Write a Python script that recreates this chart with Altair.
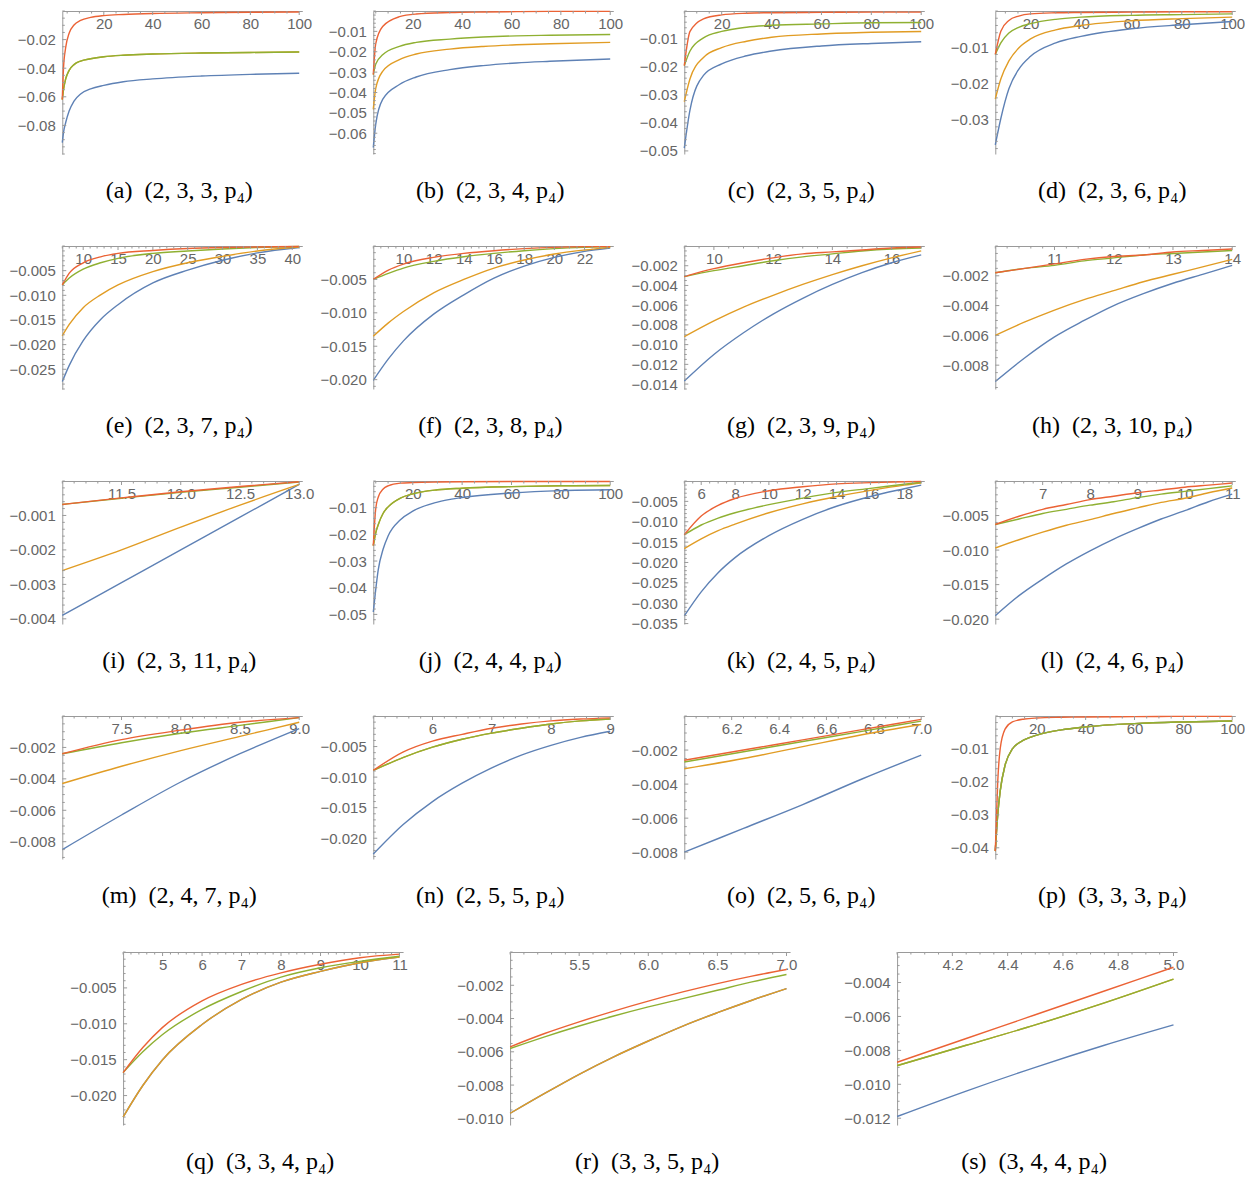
import math
import altair as alt
import pandas as pd

# ---------------- data ----------------
# (a) (2,3,3,p4)
a_x = [3, 3.5, 4.4, 5.8, 7.8, 10.5, 14.6, 20, 28, 40, 60, 80, 100]
a_blue = [-0.092, -0.085, -0.078, -0.070, -0.063, -0.058, -0.0545, -0.052, -0.0495, -0.0475, -0.0455, -0.0443, -0.0435]
a_orange = [-0.0619, -0.055, -0.0474, -0.0415, -0.0375, -0.035, -0.0334, -0.0320, -0.0309, -0.0301, -0.0294, -0.029, -0.0287]
a_green = [-0.0619, -0.055, -0.0474, -0.0415, -0.0375, -0.035, -0.0334, -0.0320, -0.0309, -0.0301, -0.0294, -0.029, -0.0287]
a_red = [-0.0619, -0.040, -0.0255, -0.0155, -0.0098, -0.0066, -0.0045, -0.0032, -0.0024, -0.0017, -0.0012, -0.0009, -0.0007]
a_xticks = [20, 40, 60, 80, 100]
a_yticks = [-0.02, -0.04, -0.06, -0.08]

# (b) (2,3,4,p4)
b_x = [4, 5, 7.8, 14.6, 21.4, 35, 48.5, 62, 75.6, 100]
b_blue = [-0.0670, -0.0555, -0.0434, -0.0361, -0.0324, -0.0288, -0.0268, -0.0255, -0.0247, -0.0236]
b_orange = [-0.0483, -0.0380, -0.0296, -0.0239, -0.0211, -0.0187, -0.0174, -0.0166, -0.0161, -0.0154]
b_green = [-0.0312, -0.0260, -0.0215, -0.0174, -0.0154, -0.0138, -0.0128, -0.0122, -0.0119, -0.0115]
b_red = [-0.0312, -0.0160, -0.0076, -0.0028, -0.0015, -0.0008, -0.0005, -0.0003, -0.0002, -0.0002]
b_xticks = [20, 40, 60, 80, 100]
b_yticks = [-0.01, -0.02, -0.03, -0.04, -0.05, -0.06]

# (c) (2,3,5,p4)
c_x = [5, 7.3, 12.7, 20, 30, 40, 60, 80, 100]
c_blue = [-0.049, -0.0353, -0.0230, -0.0189, -0.0160, -0.0143, -0.0125, -0.0116, -0.0110]
c_orange = [-0.0324, -0.0242, -0.0166, -0.0131, -0.0108, -0.0094, -0.0082, -0.0076, -0.0073]
c_green = [-0.0195, -0.0143, -0.0096, -0.0073, -0.0058, -0.0051, -0.0046, -0.0042, -0.0041]
c_red = [-0.0195, -0.0073, -0.0028, -0.0014, -0.0008, -0.0006, -0.0005, -0.0004, -0.0004]
c_xticks = [20, 40, 60, 80, 100]
c_yticks = [-0.01, -0.02, -0.03, -0.04, -0.05]

# (d) (2,3,6,p4)
d_x = [6, 8.2, 11.4, 15.3, 20, 30, 40, 60, 80, 100]
d_blue = [-0.037, -0.0297, -0.0215, -0.0161, -0.0125, -0.0088, -0.0070, -0.0049, -0.0038, -0.0029]
d_orange = [-0.0243, -0.0188, -0.0138, -0.0102, -0.0077, -0.0052, -0.0040, -0.0027, -0.0021, -0.0017]
d_green = [-0.012, -0.0088, -0.0061, -0.0045, -0.0035, -0.0023, -0.0017, -0.0012, -0.0010, -0.0008]
d_red = [-0.012, -0.0056, -0.0026, -0.0014, -0.0008, -0.0005, -0.0004, -0.0003, -0.0002, -0.0002]
d_xticks = [20, 40, 60, 80, 100]
d_yticks = [-0.01, -0.02, -0.03]

# (e) (2,3,7,p4)
e_x = [7, 8, 10, 12.5, 15, 20, 25, 30, 35, 41]
e_blue = [-0.0275, -0.0242, -0.0192, -0.0149, -0.0119, -0.0075, -0.0049, -0.0029, -0.0014, -0.0003]
e_orange = [-0.0182, -0.0159, -0.0125, -0.0099, -0.0079, -0.0052, -0.0034, -0.0021, -0.0010, -0.0002]
e_green = [-0.0079, -0.0065, -0.0047, -0.0034, -0.0025, -0.0015, -0.0010, -0.0006, -0.0003, -0.0001]
e_red = [-0.0079, -0.0055, -0.0034, -0.0022, -0.0015, -0.0009, -0.0005, -0.0003, -0.0002, -0.0001]
e_xticks = [10, 15, 20, 25, 30, 35, 40]
e_yticks = [-0.005, -0.010, -0.015, -0.020, -0.025]

# (f) (2,3,8,p4)
f_x = [8, 9, 10, 12, 14, 16, 18, 20, 22, 23.7]
f_blue = [-0.0201, -0.0169, -0.0142, -0.0102, -0.0073, -0.0048, -0.0030, -0.0017, -0.0008, -0.0003]
f_orange = [-0.0135, -0.0115, -0.0098, -0.0070, -0.0050, -0.0033, -0.0021, -0.0012, -0.0006, -0.0002]
f_green = [-0.0050, -0.0041, -0.0033, -0.0023, -0.0016, -0.0011, -0.0007, -0.0004, -0.0002, -0.0001]
f_red = [-0.0050, -0.0036, -0.0027, -0.0017, -0.0011, -0.0007, -0.0004, -0.0002, -0.0001, -0.0001]
f_xticks = [10, 12, 14, 16, 18, 20, 22]
f_yticks = [-0.005, -0.010, -0.015, -0.020]

# (g) (2,3,9,p4)
g_x = [9, 10, 11, 12, 13, 14, 15, 16, 17]
g_blue = [-0.0137, -0.0110, -0.0088, -0.0069, -0.0053, -0.0039, -0.0027, -0.0017, -0.0009]
g_orange = [-0.0092, -0.0076, -0.0062, -0.0050, -0.0039, -0.0029, -0.0020, -0.0012, -0.0005]
g_green = [-0.0031, -0.0025, -0.0020, -0.0015, -0.0011, -0.0008, -0.0005, -0.0003, -0.0002]
g_red = [-0.0031, -0.0023, -0.0017, -0.0012, -0.0008, -0.0006, -0.0004, -0.0002, -0.0001]
g_xticks = [10, 12, 14, 16]
g_yticks = [-0.002, -0.004, -0.006, -0.008, -0.010, -0.012, -0.014]

# (h) (2,3,10,p4)
h_x = [10, 10.5, 11, 11.5, 12, 12.5, 13, 13.5, 14]
h_blue = [-0.0091, -0.0075, -0.0061, -0.0050, -0.0040, -0.0032, -0.0025, -0.0019, -0.0013]
h_orange = [-0.0060, -0.0051, -0.0043, -0.0036, -0.0030, -0.0024, -0.0019, -0.0014, -0.0009]
h_green = [-0.0018, -0.0015, -0.0013, -0.0010, -0.0008, -0.0006, -0.0005, -0.0004, -0.0003]
h_red = [-0.0018, -0.0015, -0.0012, -0.0009, -0.0007, -0.0006, -0.0004, -0.0003, -0.0002]
h_xticks = [11, 12, 13, 14]
h_yticks = [-0.002, -0.004, -0.006, -0.008]

# (i) (2,3,11,p4)
i_x = [11, 11.5, 12, 12.5, 13]
i_blue = [-0.0039, -0.00295, -0.0020, -0.00105, -0.0001]
i_orange = [-0.0026, -0.0020, -0.00134, -0.0007, -0.0001]
i_green = [-0.00068, -0.0005, -0.00033, -0.00018, -0.00003]
i_red = [-0.00068, -0.00049, -0.00031, -0.00016, -0.00002]
i_xticks = [11.5, 12.0, 12.5, 13.0]
i_yticks = [-0.001, -0.002, -0.003, -0.004]

# (j) (2,4,4,p4)
j_x = [4, 5, 6, 8, 10, 15, 20, 30, 40, 60, 80, 100]
j_blue = [-0.0491, -0.0406, -0.0333, -0.0255, -0.0206, -0.0145, -0.0113, -0.0079, -0.0062, -0.0045, -0.0036, -0.0033]
j_orange = [-0.0242, -0.0194, -0.0164, -0.0121, -0.0097, -0.0064, -0.0048, -0.0033, -0.0027, -0.0021, -0.0018, -0.0017]
j_green = [-0.0242, -0.0194, -0.0164, -0.0121, -0.0097, -0.0064, -0.0048, -0.0033, -0.0027, -0.0021, -0.0018, -0.0017]
j_red = [-0.0242, -0.0103, -0.0061, -0.0030, -0.0018, -0.0008, -0.0006, -0.0004, -0.0003, -0.0002, -0.0002, -0.0002]
j_xticks = [20, 40, 60, 80, 100]
j_yticks = [-0.01, -0.02, -0.03, -0.04, -0.05]

# (k) (2,4,5,p4)
k_x = [5, 6, 7, 8, 10, 12, 14, 16, 18, 19]
k_blue = [-0.0331, -0.0272, -0.0225, -0.0188, -0.0134, -0.0094, -0.0062, -0.0038, -0.0019, -0.0010]
k_orange = [-0.0166, -0.0142, -0.0122, -0.0106, -0.0078, -0.0056, -0.0038, -0.0023, -0.0010, -0.0005]
k_green = [-0.0132, -0.0108, -0.0091, -0.0078, -0.0058, -0.0042, -0.0028, -0.0018, -0.0008, -0.0003]
k_red = [-0.0132, -0.0086, -0.0060, -0.0043, -0.0024, -0.0014, -0.0007, -0.0004, -0.0002, -0.0001]
k_xticks = [6, 8, 10, 12, 14, 16, 18]
k_yticks = [-0.005, -0.010, -0.015, -0.020, -0.025, -0.030, -0.035]

# (l) (2,4,6,p4)
l_x = [6, 6.5, 7, 7.5, 8, 8.5, 9, 9.5, 10, 10.5, 11]
l_blue = [-0.0195, -0.0166, -0.0142, -0.0120, -0.0101, -0.0084, -0.0069, -0.0055, -0.0043, -0.0030, -0.0019]
l_orange = [-0.0097, -0.0085, -0.0074, -0.0064, -0.0056, -0.0047, -0.0039, -0.0031, -0.0025, -0.0017, -0.0010]
l_green = [-0.0063, -0.0055, -0.0047, -0.0041, -0.0035, -0.0030, -0.0024, -0.0019, -0.0015, -0.0011, -0.0007]
l_red = [-0.0063, -0.0051, -0.0041, -0.0034, -0.0027, -0.0022, -0.0017, -0.0013, -0.0009, -0.0006, -0.0003]
l_xticks = [7, 8, 9, 10, 11]
l_yticks = [-0.005, -0.010, -0.015, -0.020]

# (m) (2,4,7,p4)
m_x = [7, 7.5, 8, 8.5, 9]
m_blue = [-0.0085, -0.0063, -0.0042, -0.0024, -0.0008]
m_orange = [-0.0043, -0.0032, -0.0022, -0.0013, -0.0004]
m_green = [-0.0024, -0.0017, -0.0011, -0.0006, -0.0001]
m_red = [-0.0024, -0.0015, -0.0009, -0.0004, -0.0001]
m_xticks = [7.5, 8.0, 8.5, 9.0]
m_yticks = [-0.002, -0.004, -0.006, -0.008]

# (n) (2,5,5,p4)
n_x = [5, 5.5, 6, 6.5, 7, 7.5, 8, 8.5, 9]
n_blue = [-0.0226, -0.0178, -0.0140, -0.0110, -0.0085, -0.0064, -0.0048, -0.0035, -0.0025]
n_orange = [-0.0089, -0.0068, -0.0051, -0.0038, -0.0028, -0.0020, -0.0013, -0.0008, -0.0005]
n_green = [-0.0089, -0.0068, -0.0051, -0.0038, -0.0028, -0.0020, -0.0013, -0.0008, -0.0005]
n_red = [-0.0089, -0.0059, -0.0041, -0.0030, -0.0020, -0.0013, -0.0008, -0.0005, -0.0003]
n_xticks = [6, 7, 8, 9]
n_yticks = [-0.005, -0.010, -0.015, -0.020]

# (o) (2,5,6,p4)
o_x = [6, 6.25, 6.5, 6.75, 7]
o_blue = [-0.0080, -0.0066, -0.0052, -0.0037, -0.0023]
o_orange = [-0.0031, -0.0025, -0.0018, -0.0011, -0.0005]
o_green = [-0.0027, -0.0021, -0.0015, -0.0009, -0.0003]
o_red = [-0.0026, -0.0020, -0.0014, -0.0008, -0.0002]
o_xticks = [6.2, 6.4, 6.6, 6.8, 7.0]
o_yticks = [-0.002, -0.004, -0.006, -0.008]

# (p) (3,3,3,p4)
p_x = [3, 4, 5, 7, 10, 15, 20, 30, 40, 60, 80, 100]
p_blue = [-0.041, -0.030, -0.0228, -0.015, -0.0100, -0.0072, -0.0058, -0.0042, -0.0033, -0.0023, -0.0018, -0.0015]
p_orange = [-0.041, -0.030, -0.0228, -0.015, -0.0100, -0.0072, -0.0058, -0.0042, -0.0033, -0.0023, -0.0018, -0.0015]
p_green = [-0.041, -0.030, -0.0228, -0.015, -0.0100, -0.0072, -0.0058, -0.0042, -0.0033, -0.0023, -0.0018, -0.0015]
p_red = [-0.041, -0.020, -0.010, -0.0040, -0.0018, -0.0009, -0.0006, -0.0004, -0.0003, -0.0002, -0.0001, -0.0001]
p_xticks = [20, 40, 60, 80, 100]
p_yticks = [-0.01, -0.02, -0.03, -0.04]

# (q) (3,3,4,p4)
q_x = [4, 4.5, 5, 6, 7, 8, 9, 10, 11]
q_blue = [-0.0230, -0.0186, -0.0150, -0.0101, -0.0066, -0.0042, -0.0027, -0.0015, -0.0007]
q_orange = [-0.0230, -0.0186, -0.0150, -0.0101, -0.0066, -0.0042, -0.0027, -0.0015, -0.0007]
q_green = [-0.0168, -0.0139, -0.0115, -0.0080, -0.0055, -0.0035, -0.0022, -0.0013, -0.0006]
q_red = [-0.0168, -0.0133, -0.0105, -0.0068, -0.0045, -0.0029, -0.0017, -0.0008, -0.0003]
q_xticks = [5, 6, 7, 8, 9, 10, 11]
q_yticks = [-0.005, -0.010, -0.015, -0.020]

# (r) (3,3,5,p4)
r_x = [5, 5.25, 5.5, 5.75, 6, 6.25, 6.5, 6.75, 7]
r_blue = [-0.0097, -0.0085, -0.00735, -0.0063, -0.00535, -0.00445, -0.00365, -0.0029, -0.0022]
r_orange = [-0.0097, -0.0085, -0.00735, -0.0063, -0.00535, -0.00445, -0.00365, -0.0029, -0.0022]
r_green = [-0.0058, -0.0051, -0.00445, -0.00385, -0.0033, -0.0028, -0.0023, -0.0018, -0.00135]
r_red = [-0.0057, -0.0049, -0.0042, -0.00355, -0.00295, -0.0024, -0.0019, -0.00145, -0.00105]
r_xticks = [5.5, 6.0, 6.5, 7.0]
r_yticks = [-0.002, -0.004, -0.006, -0.008, -0.010]

# (s) (3,4,4,p4)
s_x = [4, 4.25, 4.5, 4.75, 5]
s_blue = [-0.0119, -0.0104, -0.0090, -0.0077, -0.0065]
s_orange = [-0.0089, -0.0077, -0.0065, -0.0052, -0.0038]
s_green = [-0.0089, -0.0077, -0.0065, -0.0052, -0.0038]
s_red = [-0.0087, -0.0073, -0.0059, -0.0045, -0.0031]
s_xticks = [4.2, 4.4, 4.6, 4.8, 5.0]
s_yticks = [-0.004, -0.006, -0.008, -0.010, -0.012]

# captions
captions = ["(a)", "(b)", "(c)", "(d)", "(e)", "(f)", "(g)", "(h)", "(i)", "(j)",
            "(k)", "(l)", "(m)", "(n)", "(o)", "(p)", "(q)", "(r)", "(s)"]
tuples = ["(2, 3, 3, p₄)", "(2, 3, 4, p₄)", "(2, 3, 5, p₄)", "(2, 3, 6, p₄)",
          "(2, 3, 7, p₄)", "(2, 3, 8, p₄)", "(2, 3, 9, p₄)", "(2, 3, 10, p₄)",
          "(2, 3, 11, p₄)", "(2, 4, 4, p₄)", "(2, 4, 5, p₄)", "(2, 4, 6, p₄)",
          "(2, 4, 7, p₄)", "(2, 5, 5, p₄)", "(2, 5, 6, p₄)", "(3, 3, 3, p₄)",
          "(3, 3, 4, p₄)", "(3, 3, 5, p₄)", "(3, 4, 4, p₄)"]

# lower / upper ends of each panel's value axis
y_lo = [-0.100, -0.0702, -0.0511, -0.0395, -0.029, -0.0214, -0.0145, -0.0096,
        -0.00415, -0.0536, -0.0351, -0.0207, -0.0091, -0.0234, -0.0084, -0.0434,
        -0.0241, -0.0104, -0.0124]
y_hi = [0] * 18 + [-0.0022]

x_fmt = ["d", "d", "d", "d", "d", "d", "d", "d", ".1f", "d", "d", "d", ".1f", "d",
         ".1f", "d", "d", ".1f", ".1f"]
y_fmt = [".2f", ".2f", ".2f", ".2f", ".3f", ".3f", ".3f", ".3f", ".3f", ".2f", ".3f",
         ".3f", ".3f", ".3f", ".3f", ".2f", ".3f", ".3f", ".3f"]

series = [
    (a_x, a_blue, a_orange, a_green, a_red, a_xticks, a_yticks),
    (b_x, b_blue, b_orange, b_green, b_red, b_xticks, b_yticks),
    (c_x, c_blue, c_orange, c_green, c_red, c_xticks, c_yticks),
    (d_x, d_blue, d_orange, d_green, d_red, d_xticks, d_yticks),
    (e_x, e_blue, e_orange, e_green, e_red, e_xticks, e_yticks),
    (f_x, f_blue, f_orange, f_green, f_red, f_xticks, f_yticks),
    (g_x, g_blue, g_orange, g_green, g_red, g_xticks, g_yticks),
    (h_x, h_blue, h_orange, h_green, h_red, h_xticks, h_yticks),
    (i_x, i_blue, i_orange, i_green, i_red, i_xticks, i_yticks),
    (j_x, j_blue, j_orange, j_green, j_red, j_xticks, j_yticks),
    (k_x, k_blue, k_orange, k_green, k_red, k_xticks, k_yticks),
    (l_x, l_blue, l_orange, l_green, l_red, l_xticks, l_yticks),
    (m_x, m_blue, m_orange, m_green, m_red, m_xticks, m_yticks),
    (n_x, n_blue, n_orange, n_green, n_red, n_xticks, n_yticks),
    (o_x, o_blue, o_orange, o_green, o_red, o_xticks, o_yticks),
    (p_x, p_blue, p_orange, p_green, p_red, p_xticks, p_yticks),
    (q_x, q_blue, q_orange, q_green, q_red, q_xticks, q_yticks),
    (r_x, r_blue, r_orange, r_green, r_red, r_xticks, r_yticks),
    (s_x, s_blue, s_orange, s_green, s_red, s_xticks, s_yticks),
]

# ---------------- styling ----------------
COLORS = ["#5E81B5", "#E19C24", "#8FB032", "#EB6235"]
AXIS_GRAY = "#9a9a9a"
LABEL_GRAY = "#666666"
CAPTION_GAP = 37
MAJOR_LEN = 4
MINOR_LEN = 2.5


def minor_marks(majors, lo, hi):
    """Mathematica-style subdivisions between the labelled ticks."""
    step = round(majors[1] - majors[0], 12)
    lead = int(f"{abs(step):e}"[0])
    ms = abs(step) / (4 if lead == 2 else 5)
    first = math.ceil(lo / ms - 1e-6)
    last = math.floor(hi / ms + 1e-6)
    vals = [round(k * ms, 12) for k in range(first, last + 1)]
    return [v for v in vals if all(abs(v - m) > ms * 0.05 for m in majors)]


def make_panel(idx, W, H):
    xs, yb, yo, yg, yr, xt, yt = series[idx]
    df = pd.DataFrame({"x": xs, "s0": yb, "s1": yo, "s2": yg, "s3": yr})
    long = df.melt(id_vars="x", var_name="s", value_name="v")
    span = max(xs) - min(xs)
    xdom = [min(xs), max(xs) + 0.013 * span]
    ydom = [y_lo[idx], y_hi[idx]]
    xscale = alt.Scale(domain=xdom, nice=False, zero=False)
    yscale = alt.Scale(domain=ydom, nice=False, zero=False)
    xaxis = alt.Axis(values=xt, format=x_fmt[idx], orient="bottom", offset=-H, title=None,
                     tickSize=4, tickOpacity=0, labelPadding=1, labelFlush=False,
                     labelOverlap=False)
    yaxis = alt.Axis(values=yt, format=y_fmt[idx], tickSize=4, tickOpacity=0, labelPadding=3,
                     title=None, labelOverlap=False)
    layers = []
    for k, col in enumerate(["s0", "s1", "s2", "s3"]):
        layers.append(
            alt.Chart(long).transform_filter(alt.datum.s == col)
            .mark_line(color=COLORS[k], strokeWidth=1.4, interpolate="monotone")
            .encode(
                x=alt.X("x:Q", scale=xscale, axis=xaxis),
                y=alt.Y("v:Q", scale=yscale, axis=yaxis),
            )
        )
    # inward ticks (major and minor) on both axes
    x_major = [v for v in xt if xdom[0] <= v <= xdom[1]]
    x_minor = minor_marks(xt, xdom[0], xdom[1])
    y_major = [v for v in yt if ydom[0] <= v <= ydom[1]]
    y_minor = minor_marks(yt, ydom[0], ydom[1])
    for vals, ln in ((x_major, MAJOR_LEN), (x_minor, MINOR_LEN)):
        layers.append(
            alt.Chart(pd.DataFrame({"x": vals})).mark_rule(color=AXIS_GRAY, strokeWidth=1)
            .encode(x=alt.X("x:Q", scale=xscale, axis=xaxis),
                    y=alt.value(0), y2=alt.value(ln))
        )
    for vals, ln in ((y_major, MAJOR_LEN), (y_minor, MINOR_LEN)):
        layers.append(
            alt.Chart(pd.DataFrame({"v": vals})).mark_rule(color=AXIS_GRAY, strokeWidth=1)
            .encode(y=alt.Y("v:Q", scale=yscale, axis=yaxis),
                    x=alt.value(0), x2=alt.value(ln))
        )
    cap = pd.DataFrame({"c": [captions[idx] + "\u00a0 " + tuples[idx]]})
    layers.append(
        alt.Chart(cap).mark_text(font="Liberation Serif", fontSize=24, color="black",
                                 align="center", baseline="middle")
        .encode(text="c:N", x=alt.value(W / 2 - 3), y=alt.value(H + CAPTION_GAP))
    )
    return alt.layer(*layers).properties(width=W, height=H)


top_panels = [make_panel(i, 240, 143) for i in range(16)]
bottom_panels = [make_panel(i, 280, 173) for i in range(16, 19)]

grid = alt.concat(*top_panels, columns=4, spacing={"row": 92, "column": 71}, bounds="flush")
row5 = alt.hconcat(*bottom_panels, spacing=107, bounds="flush")

chart = alt.vconcat(grid, row5, spacing=43, center=True).properties(
    padding={"left": 0, "right": 0, "top": 0, "bottom": 0}
).configure_view(stroke=None).configure_axis(
    grid=False, labelFont="Liberation Sans", labelFontSize=15, labelColor=LABEL_GRAY,
    domainColor=AXIS_GRAY, tickColor=AXIS_GRAY, domainWidth=1, tickWidth=1,
)

chart.save("out.html", embed_options={"renderer": "svg", "actions": False})
